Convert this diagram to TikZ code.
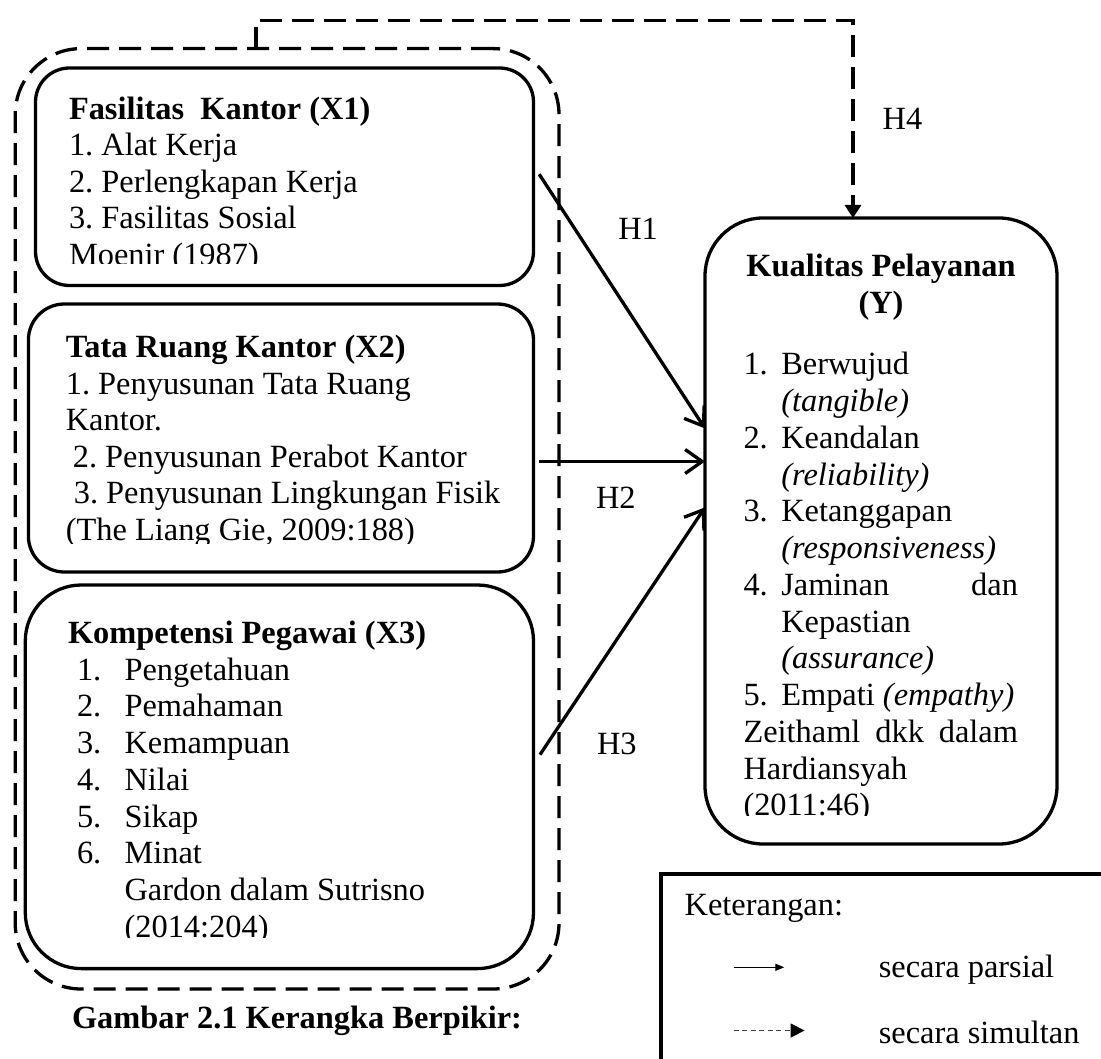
\documentclass[tikz,border=0pt]{standalone}
\usepackage{fontspec}
\setmainfont{Liberation Serif}
\usetikzlibrary{arrows.meta}
\begin{document}
\frenchspacing
\begin{tikzpicture}[x=1pt,y=-1pt,
  box/.style={draw, line width=3.3pt, inner sep=0pt, outer sep=0pt},
  txt/.style={inner sep=0pt, outer sep=0pt, anchor=base west, font=\fontsize{32.4}{36.5}\selectfont\frenchspacing},
  dsh/.style={line width=3.3pt, dash pattern=on 22pt off 10pt},
  part/.style={line width=3.3pt, -{Straight Barb[length=17pt,width=24pt,line width=3.3pt]}},
]
\clip (0,0) rectangle (1101,1059);

% group (dashed) and boxes
\node[box, dsh, rounded corners=66pt, minimum width=543.8pt, minimum height=940.4pt] (grp) at (287.1,518.8) {};
\node[box, rounded corners=34pt, minimum width=498pt, minimum height=217.5pt] (x1) at (284.5,176.75) {};
\node[box, rounded corners=36pt, minimum width=505.1pt, minimum height=268pt] (x2) at (280.95,438) {};
\node[box, rounded corners=56pt, minimum width=508.2pt, minimum height=383.6pt] (x3) at (279.4,776.8) {};
\node[box, rounded corners=58pt, minimum width=352pt, minimum height=626pt] (y) at (881,531) {};
\node[box, anchor=north west, minimum width=500pt, minimum height=260pt] (leg) at (661,874) {};

% texts
\begin{scope}
\clip (35.5,68) rectangle (533.5,264);
\node[txt] (t1) at (69,119.5) {\parbox[t]{460pt}{\raggedright\frenchspacing\textbf{Fasilitas\ \ Kantor (X1)}\\1. Alat Kerja\\2. Perlengkapan Kerja\\3. Fasilitas Sosial\\Moenir (1987)}};
\end{scope}
\begin{scope}
\clip (28.4,304) rectangle (533.5,543.5);
\node[txt] (t2) at (65.8,357.6) {\parbox[t]{470pt}{\raggedright\frenchspacing\textbf{Tata Ruang Kantor (X2)}\\1. Penyusunan Tata Ruang\\Kantor.\\\hspace*{7pt}2. Penyusunan Perabot Kantor\\\hspace*{8pt}3. Penyusunan Lingkungan Fisik\\(The Liang Gie, 2009:188)}};
\end{scope}
\begin{scope}
\clip (25.3,585) rectangle (533.5,937.5);
\node[txt] (t3) at (68,643.5) {\parbox[t]{460pt}{\fontsize{32.4}{36.7}\selectfont\raggedright\frenchspacing\textbf{Kompetensi Pegawai (X3)}\\
\hspace*{9pt}\makebox[47.6pt][l]{1.}Pengetahuan\\
\hspace*{9pt}\makebox[47.6pt][l]{2.}Pemahaman\\
\hspace*{9pt}\makebox[47.6pt][l]{3.}Kemampuan\\
\hspace*{9pt}\makebox[47.6pt][l]{4.}Nilai\\
\hspace*{9pt}\makebox[47.6pt][l]{5.}Sikap\\
\hspace*{9pt}\makebox[47.6pt][l]{6.}Minat\\
\hspace*{56.6pt}Gardon dalam Sutrisno\\
\hspace*{56.6pt}(2014:204)}};
\end{scope}
\node[txt, anchor=base] (yt) at (881,276.5) {\parbox[t]{340pt}{\fontsize{32.4}{37.5}\selectfont\centering\bfseries Kualitas Pelayanan\\(Y)}};
\begin{scope}
\clip (705,218) rectangle (1057,815);
\node[txt] (yl) at (743.5,374.8) {\parbox[t]{274.5pt}{\fontsize{32.4}{36.75}\selectfont\raggedright\frenchspacing
\makebox[37.8pt][l]{1.}Berwujud\\
\hspace*{37.8pt}\textit{(tangible)}\\
\makebox[37.8pt][l]{2.}Keandalan\\
\hspace*{37.8pt}\textit{(reliability)}\\
\makebox[37.8pt][l]{3.}Ketanggapan\\
\hspace*{37.8pt}\textit{(responsiveness)}\\
\makebox[37.8pt][l]{4.}Jaminan\hfill dan\\
\hspace*{37.8pt}Kepastian\\
\hspace*{37.8pt}\textit{(assurance)}\\
\makebox[37.8pt][l]{5.}Empati \textit{(empathy)}\\
Zeithaml\hfill dkk\hfill dalam\\
Hardiansyah\\
(2011:46)}};
\end{scope}

% hypothesis labels
\node[txt] (h1l) at (618.3,240) {H1};
\node[txt] (h2l) at (596,508.5) {H2};
\node[txt] (h3l) at (597,754.6) {H3};
\node[txt] (h4l) at (882.7,129.7) {H4};

% caption
\node[txt, anchor=base] (cap) at (297,1028.4) {\textbf{Gambar 2.1 Kerangka Berpikir:}};

% legend
\node[txt] (ket) at (684.7,915) {Keterangan:};
\node[txt] (lp) at (878.8,977.4) {secara parsial};
\node[txt] (ls) at (878.8,1043) {secara simultan};
\coordinate (la1) at (733.6,967.3);
\coordinate (la2) at (784.3,967.3);
\coordinate (lb1) at (733.6,1030.5);
\coordinate (lb2) at (804.6,1030.5);
\draw[line width=1.3pt, -{Triangle[length=9pt,width=7pt]}] (la1) -- (la2);
\draw[line width=1.3pt, black!75, dash pattern=on 5pt off 3.5pt, -{Triangle[length=14pt,width=14pt,color=black]}] (lb1) -- (lb2);

% connectors
\coordinate (c1) at (256,20.3);
\coordinate (c2) at (853,20.3);
\draw[dsh, -{Triangle[length=13pt,width=16pt]}] (c1 |- grp.north) -- (c1) -- (c2) -- (c2 |- y.north);

\coordinate (h1s) at (539.2,174.2);
\coordinate (h1e) at (705,428.5);
\coordinate (h2s) at (539.2,461.5);
\coordinate (h2e) at (705,461.5);
\coordinate (h3s) at (540,754.6);
\coordinate (h3e) at (705,507.4);
\draw[part] (h1s) -- (h1e);
\draw[part] (h2s) -- (h2e);
\draw[part] (h3s) -- (h3e);
\end{tikzpicture}
\end{document}
